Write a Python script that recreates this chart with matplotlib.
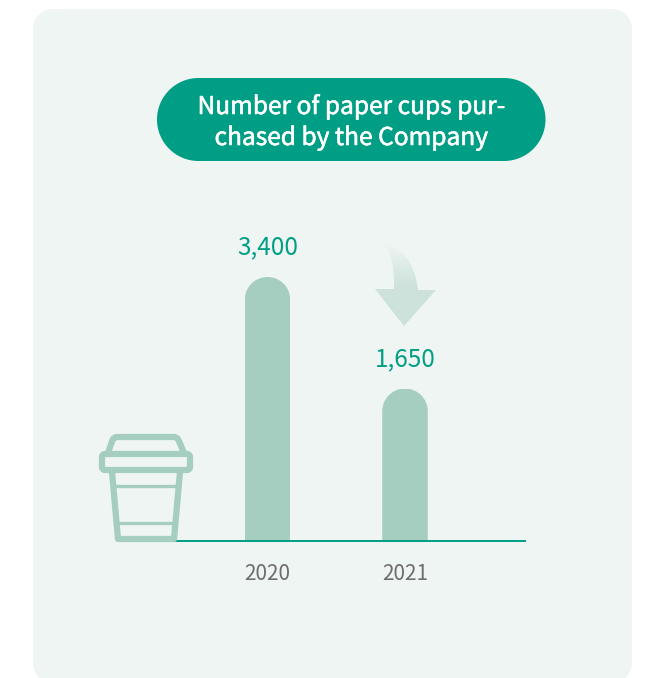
# -*- coding: utf-8 -*-

import numpy as np
from matplotlib import colors, patches
from matplotlib import patheffects
from matplotlib import pyplot as plt
from matplotlib.path import Path
from matplotlib.transforms import IdentityTransform

plt.rcParams['font.family'] = ['Noto Sans CJK KR', 'DejaVu Sans']

years = ['2020', '2021']
cups = [3400, 1650]
title = 'Number of paper cups pur-\nchased by the Company'

WIDTH, HEIGHT = 645, 678
GREEN = '#009e85'
BAR = '#a5cdc0'
PANEL = '#eff5f3'
GREY = '#6e6e6e'
ARROW = '#cde2db'


def pixel_axes(figure, zorder):
    # axes covering the whole figure, in pixels from the top left corner
    ax = figure.add_axes([0, 0, 1, 1], zorder=zorder)
    ax.set_xlim(0, WIDTH)
    ax.set_ylim(HEIGHT, 0)
    ax.axis('off')
    return ax


def rounded_path(x0, y0, x1, y1, r):
    # rectangle with circular corners, y0 < y1
    k = r * (1 - 0.5523)
    verts = [(x0 + r, y0), (x1 - r, y0),
             (x1 - k, y0), (x1, y0 + k), (x1, y0 + r),
             (x1, y1 - r),
             (x1, y1 - k), (x1 - k, y1), (x1 - r, y1),
             (x0 + r, y1),
             (x0 + k, y1), (x0, y1 - k), (x0, y1 - r),
             (x0, y0 + r),
             (x0, y0 + k), (x0 + k, y0), (x0 + r, y0),
             (x0 + r, y0)]
    codes = [Path.MOVETO, Path.LINETO,
             Path.CURVE4, Path.CURVE4, Path.CURVE4,
             Path.LINETO,
             Path.CURVE4, Path.CURVE4, Path.CURVE4,
             Path.LINETO,
             Path.CURVE4, Path.CURVE4, Path.CURVE4,
             Path.LINETO,
             Path.CURVE4, Path.CURVE4, Path.CURVE4,
             Path.CLOSEPOLY]
    return Path(verts, codes)


def round_bar_tops(ax, bars):
    ax.figure.canvas.draw()
    for bar in bars:
        (x0, y0), (x1, y1) = ax.transData.transform(
            [(bar.get_x(), bar.get_y()), (bar.get_x() + bar.get_width(), bar.get_height())])
        bar.set_clip_path(rounded_path(x0, y0 - 40, x1, y1, (x1 - x0) / 2), IdentityTransform())


def draw_cup(ax):
    style = dict(fill=False, edgecolor=BAR, linewidth=4.5, joinstyle='round', zorder=3)
    lid = Path([(108, 453), (112.5, 440), (114, 437), (117, 437), (174, 437), (177, 437), (178.5, 440), (184, 453)],
               [Path.MOVETO, Path.LINETO, Path.CURVE3, Path.CURVE3, Path.LINETO, Path.CURVE3, Path.CURVE3,
                Path.LINETO])
    ax.add_patch(patches.PathPatch(lid, **style))
    ax.add_patch(patches.PathPatch(rounded_path(102, 454, 190, 470, 3), **style))
    ax.add_patch(patches.Polygon([(112, 472), (118, 539), (174, 539), (180, 472)], closed=False, **style))
    ax.plot([113, 179], [486, 486], color=BAR, linewidth=2.4, zorder=3)
    ax.plot([118, 174], [523, 523], color=BAR, linewidth=2.4, zorder=3)


def draw_arrow(ax):
    codes = [Path.MOVETO, Path.CURVE3, Path.CURVE3, Path.LINETO, Path.LINETO, Path.LINETO, Path.LINETO,
             Path.CURVE3, Path.CURVE3, Path.CLOSEPOLY]
    verts = [(381, 243), (395, 252), (394, 289), (375, 289), (404, 326), (436, 290), (418, 290),
             (413, 248), (381, 243), (381, 243)]
    shape = patches.PathPatch(Path(verts, codes), facecolor='none', edgecolor='none', transform=ax.transData)
    ax.add_patch(shape)

    # fades in from the top of the shaft down to the arrow head
    rgba = np.zeros((256, 1, 4))
    rgba[..., :3] = colors.to_rgb(ARROW)
    rgba[..., 3] = np.clip(np.linspace(0, 1.9, 256), 0, 1)[:, None]
    image = ax.imshow(rgba, extent=(370, 440, 326, 243), aspect='auto', zorder=3)
    image.set_clip_path(shape)
    ax.set_xlim(0, WIDTH)
    ax.set_ylim(HEIGHT, 0)


figure = plt.figure(figsize=(WIDTH / 100, HEIGHT / 100), dpi=100, facecolor='white')

# panel and title pill
back = pixel_axes(figure, 0)
back.add_patch(patches.PathPatch(rounded_path(33, 9, 632, 683, 20), facecolor=PANEL, edgecolor='none'))
back.add_patch(patches.PathPatch(rounded_path(157, 78, 545.5, 161, 41.5), facecolor=GREEN, edgecolor='none'))
heading = back.text(351, 122.5, title, color='white', fontsize=17.65, ha='center', va='center', linespacing=1.25)
heading.set_path_effects([patheffects.withStroke(linewidth=0.4, foreground='white')])

# bar chart, the axes run from the baseline up to the tallest bar
left, right, base, top = 147, 525, 540.5, 277
chart = figure.add_axes([left / WIDTH, 1 - base / HEIGHT, (right - left) / WIDTH, (base - top) / HEIGHT], zorder=1)
chart.patch.set_visible(False)
positions = np.arange(len(years))
chart.set_xlim(-120.5 / 137.5, 257.5 / 137.5)
# compressed value scale, the axis itself is not shown
chart.set_yscale('function', functions=(lambda v: np.power(np.maximum(v, 0), 0.761),
                                        lambda v: np.power(np.maximum(v, 0), 1 / 0.761)))
chart.set_ylim(0, max(cups))
bars = chart.bar(positions, cups, width=45.5 / 137.5, color=BAR)
chart.set_xticks(positions, years)
chart.set_yticks([])
chart.minorticks_off()
chart.tick_params(axis='x', length=0, pad=16.3, labelsize=15, labelcolor=GREY)
for name in ['top', 'left', 'right']:
    chart.spines[name].set_visible(False)
chart.spines['bottom'].set_color(GREEN)
chart.spines['bottom'].set_linewidth(1.4)
for x, value in zip(positions, cups):
    chart.annotate('{:,}'.format(value), (x, value), xytext=(0, 21.3), textcoords='offset points',
                   ha='center', va='center', color=GREEN, fontsize=17.5, annotation_clip=False)
round_bar_tops(chart, bars)

# cup icon and arrow sit above the baseline
front = pixel_axes(figure, 2)
front.patch.set_visible(False)
draw_cup(front)
draw_arrow(front)

plt.savefig('out.png', dpi=100)
